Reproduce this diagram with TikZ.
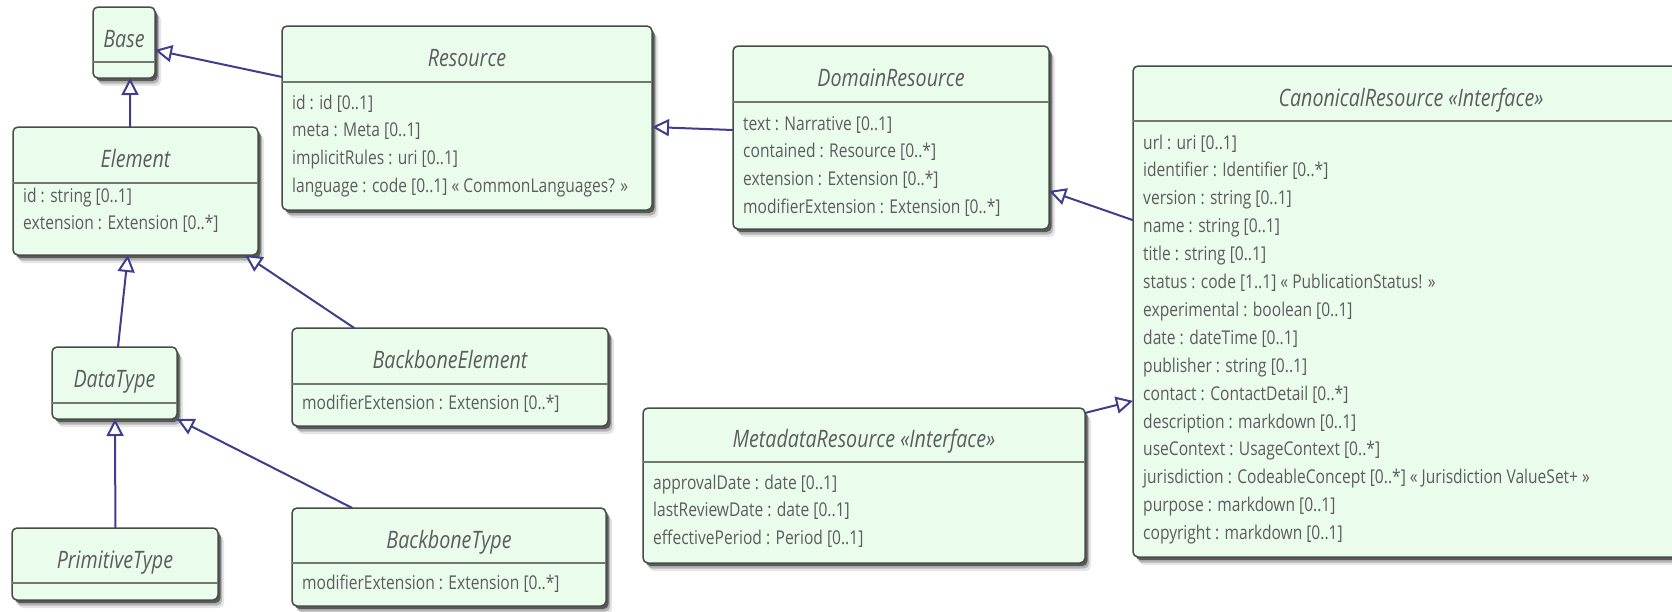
\documentclass[tikz,border=0pt]{standalone}
\usepackage{fontspec}
\setmainfont{Open Sans}[FakeStretch=0.82]
\usetikzlibrary{arrows.meta,calc,shadows}

\definecolor{clsfill}{RGB}{234,253,237}
\definecolor{clsline}{RGB}{70,76,70}
\definecolor{clsrule}{RGB}{112,120,112}
\definecolor{clstext}{RGB}{92,92,92}
\definecolor{genline}{RGB}{62,62,140}

\tikzset{
  clsbox/.style={draw=clsline, line width=1.5pt, fill=clsfill, rounded corners=5pt,
    inner sep=0pt, outer sep=0pt,
    drop shadow={shadow xshift=6pt, shadow yshift=-8pt, opacity=0.10, fill=black},
    drop shadow={shadow xshift=4pt, shadow yshift=-5.5pt, opacity=0.22, fill=black},
    drop shadow={shadow xshift=2.5pt, shadow yshift=-3pt, opacity=0.5, fill=black}},
  clsdiv/.style={draw=clsrule, line width=1.5pt},
  clstitle/.style={text=clstext, font=\fontsize{24}{28}\selectfont\itshape, inner sep=0pt, anchor=base},
  clsattr/.style={text=clstext, font=\fontsize{19}{28}\selectfont, inner sep=0pt, anchor=base west},
  gen/.style={draw=genline, line width=2pt, -{Triangle[length=17pt,width=17pt,fill=white]}},
}

% class box: name, left, top, right, bottom, divider, title
\newcommand\umlcls[7]{%
  \node[clsbox, anchor=north west, minimum width={#4-#2}, minimum height={#5-#3}] (#1) at (#2,#3) {};
  \draw[clsdiv] (#2,#6) -- (#4,#6);
  \node[clstitle] (#1-t) at ({(#2+#4)/2},{(#3+#6)/2+12.5}) {#7};
}
% attribute lines: name, left, first baseline, list
\newcommand\umlattrs[4]{%
  \foreach \attrtext [count=\k] in {#4} {
    \node[clsattr] (#1-l\k) at ({#2+10},{#3+(\k-1)*27.9}) {\attrtext};
  }
}

\begin{document}
\begin{tikzpicture}[x=1pt, y=-1pt]
\path[use as bounding box] (0,0) rectangle (1672,611);
\clip (0,0) rectangle (1672,611);

% class boxes
\umlcls{base}{93}{7}{155}{78}{62}{Base}
\umlcls{elem}{13}{127}{258}{255}{183}{Element}
\umlattrs{elem}{13}{202}{id : string [0..1], extension : Extension [0..*]}

\umlcls{res}{282}{26}{652}{210}{82}{Resource}
\umlattrs{res}{282}{109}{id : id [0..1], meta : Meta [0..1], implicitRules : uri [0..1],
  language : code [0..1] « CommonLanguages? »}

\umlcls{dom}{733}{46}{1049}{229}{102}{DomainResource}
\umlattrs{dom}{733}{130}{text : Narrative [0..1], contained : Resource [0..*],
  extension : Extension [0..*], modifierExtension : Extension [0..*]}

\umlcls{can}{1133}{66}{1689}{557}{121}{CanonicalResource «Interface»}
\umlattrs{can}{1133}{149}{url : uri [0..1], identifier : Identifier [0..*], version : string [0..1],
  name : string [0..1], title : string [0..1], status : code [1..1] « PublicationStatus! »,
  experimental : boolean [0..1], date : dateTime [0..1], publisher : string [0..1],
  contact : ContactDetail [0..*], description : markdown [0..1], useContext : UsageContext [0..*],
  jurisdiction : CodeableConcept [0..*] « Jurisdiction ValueSet+ », purpose : markdown [0..1],
  copyright : markdown [0..1]}

\umlcls{meta}{643}{408}{1085}{563}{462}{MetadataResource «Interface»}
\umlattrs{meta}{643}{489}{approvalDate : date [0..1], lastReviewDate : date [0..1],
  effectivePeriod : Period [0..1]}

\umlcls{dt}{52}{347}{177}{419}{403}{DataType}

\umlcls{bbe}{292}{328}{608}{426}{384}{BackboneElement}
\umlattrs{bbe}{292}{409}{modifierExtension : Extension [0..*]}

\umlcls{prim}{12}{528}{218}{600}{583}{PrimitiveType}

\umlcls{bbt}{292}{508}{606}{606}{563}{BackboneType}
\umlattrs{bbt}{292}{589}{modifierExtension : Extension [0..*]}

% generalisation connectors
\draw[gen] ($(res.north west)!0.277!(res.south west)$) -- ($(base.north east)!0.606!(base.south east)$);
\draw[gen] ($(elem.north west)!0.478!(elem.north east)$) -- ($(base.south west)!0.597!(base.south east)$);
\draw[gen] ($(dt.north west)!0.528!(dt.north east)$) -- ($(elem.south west)!0.469!(elem.south east)$);
\draw[gen] ($(bbe.north west)!0.197!(bbe.north east)$) -- ($(elem.south west)!0.947!(elem.south east)$);
\draw[gen] ($(prim.north west)!0.502!(prim.north east)$) -- ($(dt.south west)!0.504!(dt.south east)$);
\draw[gen] ($(bbt.north west)!0.192!(bbt.north east)$) -- (dt.south east);
\draw[gen] ($(dom.north west)!0.459!(dom.south west)$) -- ($(res.north east)!0.549!(res.south east)$);
\draw[gen] ($(can.north west)!0.314!(can.south west)$) -- ($(dom.north east)!0.792!(dom.south east)$);
\draw[gen] ($(meta.north east)!0.032!(meta.south east)$) -- ($(can.north west)!0.682!(can.south west)$);
\end{tikzpicture}
\end{document}
